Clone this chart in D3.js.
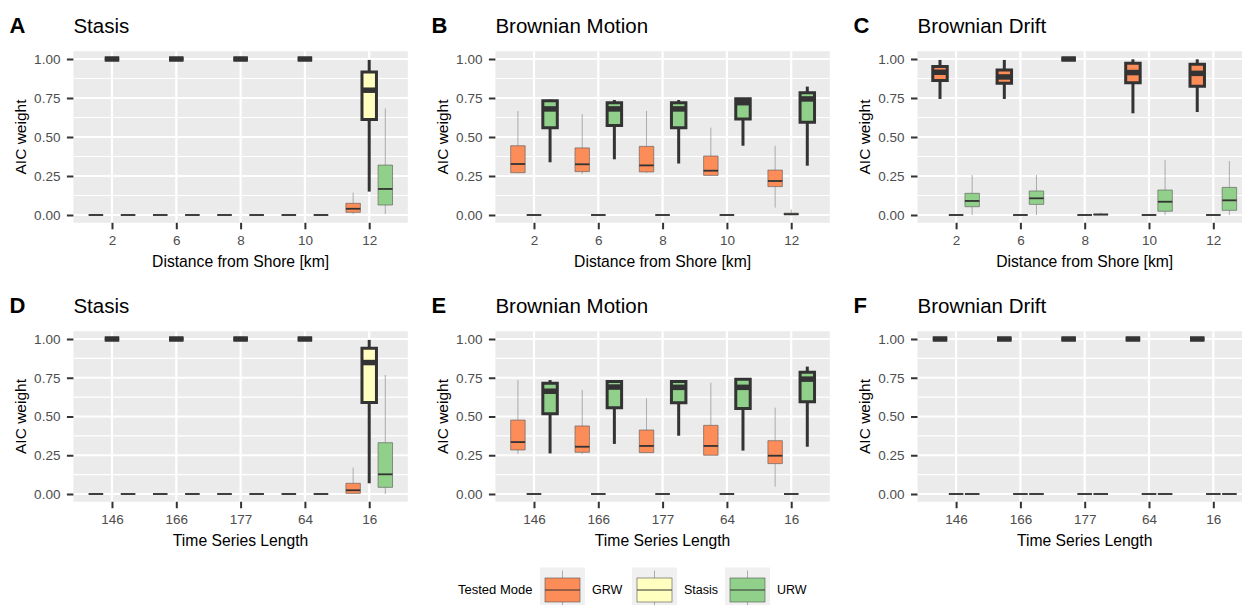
<!DOCTYPE html>
<html>
<head>
<meta charset="utf-8">
<script src="https://cdn.jsdelivr.net/npm/d3@7"></script>
<style>
  body { margin: 0; background: #fff; }
  text { font-family: "Liberation Sans", Arial, sans-serif; }
</style>
</head>
<body>
<div id="chart-area"></div>
<script>
// categories and legend
const distCats = ["2", "6", "8", "10", "12"]
const lengthCats = ["146", "166", "177", "64", "16"]
const models = ["GRW", "Stasis", "URW"]
const modelColors = ["#FC8D59", "#FFFFBF", "#91D08A"]
const yTicks = [0, 0.25, 0.5, 0.75, 1]
const yMinor = [0.125, 0.375, 0.625, 0.875]

// box stats per category: [lower whisker, q1, median, q3, upper whisker]
const statsA = {
  GRW:    [[0,0,0,0,0], [0,0,0,0,0], [0,0,0,0,0], [0,0,0,0,0], [0.005,0.017,0.04,0.075,0.143]],
  Stasis: [[1,1,1,1,1], [1,1,1,1,1], [1,1,1,1,1], [1,1,1,1,1], [0.15,0.612,0.80,0.916,0.994]],
  URW:    [[0,0,0,0,0], [0,0,0,0,0], [0,0,0,0,0], [0,0,0,0,0], [0.006,0.064,0.167,0.32,0.684]]
}
const statsB = {
  GRW:    [[0.267,0.271,0.327,0.444,0.667], [0.263,0.278,0.325,0.43,0.647], [0.27,0.276,0.318,0.44,0.667],
           [0.25,0.254,0.284,0.378,0.56], [0.047,0.182,0.218,0.288,0.444]],
  Stasis: [[0,0,0,0,0], [0,0,0,0,0], [0,0,0,0,0], [0,0,0,0,0], [0,0,0.006,0.012,0.036]],
  URW:    [[0.338,0.56,0.68,0.733,0.74], [0.357,0.573,0.68,0.72,0.737], [0.33,0.56,0.68,0.72,0.737],
           [0.444,0.615,0.72,0.745,0.75], [0.316,0.594,0.744,0.784,0.823]]
}
const statsC = {
  GRW:    [[0.744,0.862,0.915,0.952,0.994], [0.744,0.844,0.885,0.93,0.994], [1,1,1,1,1],
           [0.652,0.847,0.913,0.973,0.998], [0.66,0.826,0.908,0.967,0.998]],
  Stasis: [[0,0,0,0,0], [0,0,0,0,0], [0,0,0,0,0], [0,0,0,0,0], [0,0,0,0,0]],
  URW:    [[0,0.053,0.09,0.139,0.256], [0,0.068,0.107,0.154,0.256], [0,0,0.003,0.006,0.015],
           [0,0.024,0.085,0.16,0.353], [0,0.03,0.094,0.177,0.346]]
}
const statsD = {
  GRW:    [[0,0,0,0,0], [0,0,0,0,0], [0,0,0,0,0], [0,0,0,0,0], [0,0.004,0.024,0.069,0.17]],
  Stasis: [[1,1,1,1,1], [1,1,1,1,1], [1,1,1,1,1], [1,1,1,1,1], [0.069,0.59,0.848,0.941,0.994]],
  URW:    [[0,0,0,0,0], [0,0,0,0,0], [0,0,0,0,0], [0,0,0,0,0], [0,0.043,0.127,0.331,0.768]]
}
const statsE = {
  GRW:    [[0.258,0.284,0.335,0.477,0.735], [0.258,0.269,0.305,0.439,0.671], [0.265,0.267,0.31,0.413,0.617],
           [0.25,0.25,0.31,0.443,0.718], [0.047,0.196,0.247,0.344,0.557]],
  Stasis: [[0,0,0,0,0], [0,0,0,0,0], [0,0,0,0,0], [0,0,0,0,0], [0,0,0,0,0]],
  URW:    [[0.262,0.517,0.663,0.715,0.735], [0.323,0.556,0.69,0.726,0.735], [0.376,0.588,0.688,0.726,0.73],
           [0.28,0.552,0.688,0.741,0.745], [0.305,0.595,0.741,0.786,0.822]]
}
const statsF = {
  GRW:    [[1,1,1,1,1], [1,1,1,1,1], [1,1,1,1,1], [1,1,1,1,1], [1,1,1,1,1]],
  Stasis: [[0,0,0,0,0], [0,0,0,0,0], [0,0,0,0,0], [0,0,0,0,0], [0,0,0,0,0]],
  URW:    [[0,0,0,0,0], [0,0,0,0,0], [0,0,0,0,0], [0,0,0,0,0], [0,0,0,0,0]]
}

const panels = [
  { letter: "A", title: "Stasis", truth: "Stasis", cats: distCats, xTitle: "Distance from Shore [km]", stats: statsA, col: 0, row: 0 },
  { letter: "B", title: "Brownian Motion", truth: "URW", cats: distCats, xTitle: "Distance from Shore [km]", stats: statsB, col: 1, row: 0 },
  { letter: "C", title: "Brownian Drift", truth: "GRW", cats: distCats, xTitle: "Distance from Shore [km]", stats: statsC, col: 2, row: 0 },
  { letter: "D", title: "Stasis", truth: "Stasis", cats: lengthCats, xTitle: "Time Series Length", stats: statsD, col: 0, row: 1 },
  { letter: "E", title: "Brownian Motion", truth: "URW", cats: lengthCats, xTitle: "Time Series Length", stats: statsE, col: 1, row: 1 },
  { letter: "F", title: "Brownian Drift", truth: "GRW", cats: lengthCats, xTitle: "Time Series Length", stats: statsF, col: 2, row: 1 }
]

const W = 1242, H = 605
const LEFTS = [73.4, 495.4, 917.5]
const PW = 334.4
const TOPS = [51.2, 331.25]
const PH = [171.6, 170.5]

const svg = d3.select("#chart-area").append("svg")
  .attr("width", W)
  .attr("height", H)

const color = d3.scaleOrdinal().domain(models).range(modelColors)

panels.forEach(p => {
  const ph = PH[p.row]
  const g = svg.append("g")
    .attr("transform", `translate(${LEFTS[p.col]}, ${TOPS[p.row]})`)

  const x = d3.scalePoint().domain(p.cats).range([0, PW]).padding(0.6)
  const y = d3.scaleLinear().domain([-0.05, 1.05]).range([ph, 0])
  const step = x.step()
  const dodge = d3.scaleBand().domain(models).range([-0.375 * step, 0.375 * step])
  const bw = dodge.bandwidth() * 0.9

  // panel background + grid
  g.append("rect").attr("width", PW).attr("height", ph).attr("fill", "#EBEBEB")
  g.selectAll(".minor").data(yMinor).enter().append("line")
    .attr("x1", 0).attr("x2", PW)
    .attr("y1", d => y(d)).attr("y2", d => y(d))
    .attr("stroke", "#fff").attr("stroke-width", 1.1)
  g.selectAll(".major").data(yTicks).enter().append("line")
    .attr("x1", 0).attr("x2", PW)
    .attr("y1", d => y(d)).attr("y2", d => y(d))
    .attr("stroke", "#fff").attr("stroke-width", 2.2)
  g.selectAll(".vgrid").data(p.cats).enter().append("line")
    .attr("x1", d => x(d)).attr("x2", d => x(d))
    .attr("y1", 0).attr("y2", ph)
    .attr("stroke", "#fff").attr("stroke-width", 2.2)

  // boxes
  models.forEach(m => {
    const thick = m === p.truth
    const sw = thick ? 3 : 0.6
    p.stats[m].forEach((s, i) => {
      const cx = x(p.cats[i]) + dodge(m) + dodge.bandwidth() / 2
      const box = g.append("g")
      // whiskers
      box.append("line")
        .attr("x1", cx).attr("x2", cx)
        .attr("y1", y(s[0])).attr("y2", y(s[1]))
        .attr("stroke", thick ? "#333" : "#9a9a9a")
        .attr("stroke-width", thick ? 3 : 0.8)
      box.append("line")
        .attr("x1", cx).attr("x2", cx)
        .attr("y1", y(s[3])).attr("y2", y(s[4]))
        .attr("stroke", thick ? "#333" : "#9a9a9a")
        .attr("stroke-width", thick ? 3 : 0.8)
      // box (path so zero-height boxes still draw)
      const y3 = y(s[3]), y1 = y(s[1])
      box.append("path")
        .attr("d", `M${cx - bw / 2},${y3}H${cx + bw / 2}V${y1}H${cx - bw / 2}Z`)
        .attr("fill", color(m))
        .attr("stroke", thick ? "#333" : "#555")
        .attr("stroke-width", sw)
      // median
      box.append("line")
        .attr("x1", cx - bw / 2).attr("x2", cx + bw / 2)
        .attr("y1", y(s[2])).attr("y2", y(s[2]))
        .attr("stroke", "#333")
        .attr("stroke-width", thick ? 5.5 : 1.8)
    })
  })

  // axes
  const xAxis = g.append("g")
    .attr("transform", `translate(0, ${ph})`)
    .call(d3.axisBottom(x).tickSize(6.5).tickPadding(6.5))
  const yAxis = g.append("g")
    .call(d3.axisLeft(y).tickValues(yTicks).tickFormat(d3.format(".2f")).tickSize(6.5).tickPadding(6.5))
  ;[xAxis, yAxis].forEach(a => {
    a.select(".domain").remove()
    a.selectAll(".tick line").attr("stroke", "#333").attr("stroke-width", 2)
    a.selectAll(".tick text")
      .attr("fill", "#4D4D4D")
      .attr("font-size", "13.5px")
      .attr("font-family", "Liberation Sans, Arial, sans-serif")
  })

  // axis titles
  g.append("text")
    .attr("x", PW / 2)
    .attr("y", ph + 44)
    .attr("text-anchor", "middle")
    .attr("font-size", "15.7px")
    .text(p.xTitle)
  g.append("text")
    .attr("transform", `translate(-47.5, ${ph / 2}) rotate(-90)`)
    .attr("text-anchor", "middle")
    .attr("font-size", "15.5px")
    .text("AIC weight")

  // panel title + letter
  g.append("text")
    .attr("x", 0)
    .attr("y", -18.7)
    .attr("font-size", "20.5px")
    .text(p.title)
  g.append("text")
    .attr("x", -64)
    .attr("y", -18.7)
    .attr("font-size", "22px")
    .attr("font-weight", "bold")
    .text(p.letter)
})

// legend
const legend = svg.append("g")
legend.append("text")
  .attr("x", 458)
  .attr("y", 594)
  .attr("font-size", "13px")
  .text("Tested Mode")
const keyX = [540, 632, 725]
models.forEach((m, i) => {
  const k = legend.append("g").attr("transform", `translate(${keyX[i]}, 567.5)`)
  k.append("rect").attr("width", 45).attr("height", 45).attr("fill", "#F0F0F0")
  k.append("line").attr("x1", 22.5).attr("x2", 22.5).attr("y1", 3).attr("y2", 42)
    .attr("stroke", "#9a9a9a").attr("stroke-width", 0.8)
  k.append("rect").attr("x", 5).attr("y", 10.5).attr("width", 35).attr("height", 24)
    .attr("fill", color(m)).attr("stroke", "#555").attr("stroke-width", 0.6)
  k.append("line").attr("x1", 5).attr("x2", 40).attr("y1", 22.5).attr("y2", 22.5)
    .attr("stroke", "#333").attr("stroke-width", 1.2)
  k.append("text")
    .attr("x", 52)
    .attr("y", 26.5)
    .attr("font-size", "12.5px")
    .text(m)
})
</script>
</body>
</html>
